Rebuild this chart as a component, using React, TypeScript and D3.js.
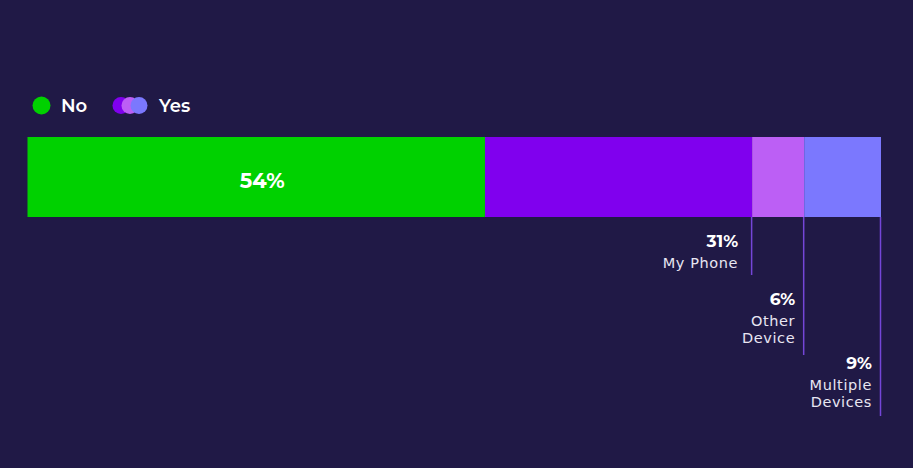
import React from "react";
import * as d3 from "d3";

const categories = ["No", "My Phone", "Other Device", "Multiple Devices"];
const values = [53.6, 31.3, 6.1, 9.0];
const colors = ["#00d100", "#8000ee", "#bc5ff5", "#7b78fe"];
const labelLines = [[], ["My Phone"], ["Other", "Device"], ["Multiple", "Devices"]];
const legendItems = ["No", "Yes"];

const W = 913;
const H = 468;
const FONT = "Montserrat, 'Open Sans', Lato, sans-serif";
const SUBFONT = "'DejaVu Sans', sans-serif";

export default function App() {
  const x = d3.scaleLinear().domain([0, d3.sum(values)]).range([27.5, 881]);
  const y0 = 137;
  const y1 = 217;
  const starts = values.map((_, i) => d3.sum(values.slice(0, i)));
  const lineEnds = [0, 275, 355, 416];
  const pctBaselines = [0, 247, 305, 369];
  const textGap = [0, 14, 9, 9];
  const bg = "#201946";

  return (
    <div style={{ position: "fixed", left: 0, top: 0 }}>
      <svg width={W} height={H} style={{ display: "block" }}>
        <rect width={W} height={H} fill={bg} />
        {/* legend */}
        <g fontFamily={FONT} fontWeight={600} fontSize={18} fill="#ffffff">
          <circle cx={41.5} cy={105.5} r={9} fill={colors[0]} />
          <text x={61} y={112}>{legendItems[0]}</text>
          <circle cx={121} cy={105.5} r={8.5} fill={colors[1]} />
          <circle cx={130} cy={105.5} r={8.5} fill={colors[2]} />
          <circle cx={139} cy={105.5} r={8.5} fill={colors[3]} />
          <text x={159} y={112}>{legendItems[1]}</text>
        </g>
        {/* leader lines */}
        {values.map((v, i) =>
          i === 0 ? null : (
            <line
              key={"l" + i}
              x1={x(starts[i] + v) - 0.5}
              x2={x(starts[i] + v) - 0.5}
              y1={y1}
              y2={lineEnds[i]}
              stroke="#7446d8"
              strokeWidth={1.5}
            />
          )
        )}
        {/* bars */}
        {values.map((v, i) => (
          <rect
            key={categories[i]}
            x={x(starts[i])}
            y={y0}
            width={x(starts[i] + v) - x(starts[i])}
            height={y1 - y0}
            fill={colors[i]}
          />
        ))}
        {/* inside label */}
        <text
          x={(x(0) + x(values[0])) / 2 + 6}
          y={188}
          textAnchor="middle"
          fontFamily={FONT}
          fontWeight={700}
          fontSize={21}
          fill="#ffffff"
        >
          {Math.round(values[0]) + "%"}
        </text>
        {/* outside labels */}
        {values.map((v, i) => {
          if (i === 0) return null;
          const xr = x(starts[i] + v) - textGap[i];
          return (
            <g key={"t" + i} fill="#ffffff" textAnchor="end">
              <text x={xr} y={pctBaselines[i]} fontFamily={FONT} fontWeight={700} fontSize={17}>
                {Math.round(v) + "%"}
              </text>
              {labelLines[i].map((s, j) => (
                <text
                  key={s}
                  x={xr}
                  y={pctBaselines[i] + 21 + j * 17}
                  fontFamily={SUBFONT}
                  fontSize={14.5}
                  letterSpacing={0.6}
                  fill="#e8e6f2"
                >
                  {s}
                </text>
              ))}
            </g>
          );
        })}
      </svg>
    </div>
  );
}
